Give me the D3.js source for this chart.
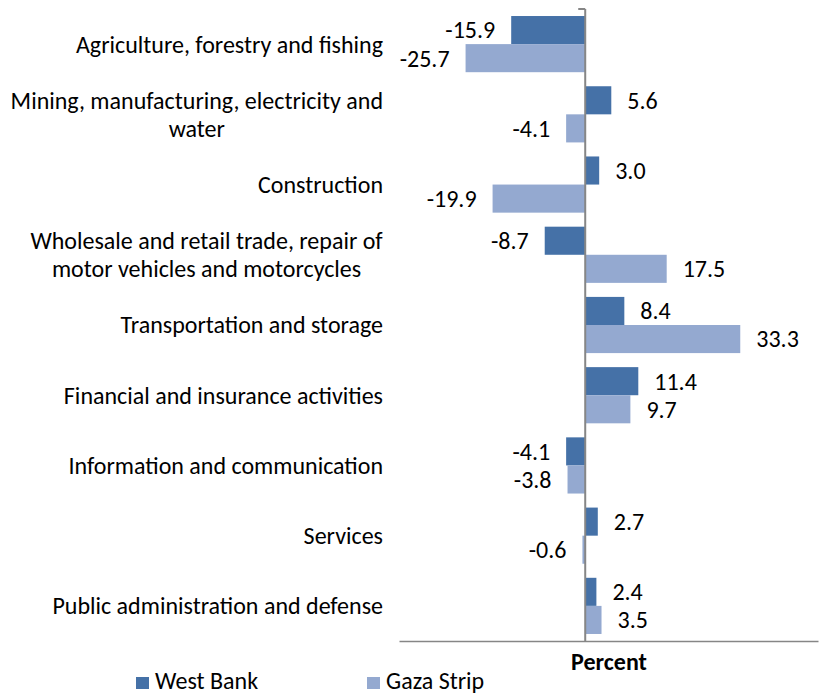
<!DOCTYPE html>
<html>
<head>
<meta charset="utf-8">
<script src="https://cdn.jsdelivr.net/npm/d3@7"></script>
<style>
  html, body { margin: 0; padding: 0; background: #fff; }
  svg { display: block; }
  text { font-family: Carlito, Lato, "Open Sans", sans-serif; fill: #000; }
</style>
</head>
<body>
<svg id="chart" width="822" height="695"></svg>
<script>
// Sectors (label lines) and annual percentage change by region
const categories = [
  ["Agriculture, forestry and fishing"],
  ["Mining, manufacturing, electricity and", "water"],
  ["Construction"],
  ["Wholesale and retail trade, repair of", "motor vehicles and motorcycles"],
  ["Transportation and storage"],
  ["Financial and insurance activities"],
  ["Information and communication"],
  ["Services"],
  ["Public administration and defense"]
];
const seriesNames = ["West Bank", "Gaza Strip"];
const westBank = [-15.9, 5.6, 3.0, -8.7, 8.4, 11.4, -4.1, 2.7, 2.4];
const gazaStrip = [-25.7, -4.1, -19.9, 17.5, 33.3, 9.7, -3.8, -0.6, 3.5];
const xDomain = [-40, 50];
const axisTitle = "Percent";

const colors = ["#4571a7", "#94a9d0"];
const fontSize = 24;

const svg = d3.select("#chart");
const plot = { left: 399, right: 818, top: 9, bottom: 641 };

const x = d3.scaleLinear().domain(xDomain).range([plot.left, plot.right]);
const idx = d3.range(categories.length);
const y = d3.scaleBand().domain(idx).range([plot.top, plot.bottom])
  .paddingInner(0.2).paddingOuter(0.1);
const ySub = d3.scaleBand().domain([0, 1]).range([0, y.bandwidth()]);

const data = idx.map(i => ({ i, values: [westBank[i], gazaStrip[i]] }));

// bars
const groups = svg.append("g").selectAll("g").data(data).join("g")
  .attr("transform", d => `translate(0,${y(d.i)})`);

groups.selectAll("rect").data(d => d.values.map((v, s) => ({ v, s })))
  .join("rect")
  .attr("x", d => x(Math.min(0, d.v)))
  .attr("width", d => Math.abs(x(d.v) - x(0)))
  .attr("y", d => ySub(d.s))
  .attr("height", ySub.bandwidth())
  .attr("fill", d => colors[d.s]);

// value labels
groups.selectAll("text.val").data(d => d.values.map((v, s) => ({ v, s })))
  .join("text")
  .attr("class", "val")
  .attr("x", d => d.v < 0 ? x(d.v) - 16 : x(d.v) + 16)
  .attr("y", d => ySub(d.s) + ySub.bandwidth() / 2)
  .attr("dy", "0.35em")
  .attr("text-anchor", d => d.v < 0 ? "end" : "start")
  .style("font-size", fontSize + "px")
  .text(d => d.v.toFixed(1));

// axes
const axisColor = "#868686";
svg.append("g")
  .attr("transform", `translate(0,${plot.bottom})`)
  .call(d3.axisBottom(x).tickValues([]).tickSizeOuter(0))
  .call(g => g.select(".domain").attr("stroke", axisColor).attr("stroke-width", 1.5));

const yAxis = svg.append("g").attr("transform", `translate(${x(0)},0)`);
yAxis.append("line")
  .attr("x1", 0).attr("x2", 0)
  .attr("y1", plot.top).attr("y2", plot.bottom)
  .attr("stroke", axisColor).attr("stroke-width", 2);
yAxis.append("line")
  .attr("x1", -7).attr("x2", 0)
  .attr("y1", plot.top).attr("y2", plot.top)
  .attr("stroke", axisColor).attr("stroke-width", 2);

// category labels: right-aligned block, lines centred within it
const labelRight = 383;
const lineH = 28;
const catG = svg.append("g");
categories.forEach((lines, i) => {
  const g = catG.append("g");
  const cy = y(i) + y.bandwidth() / 2;
  const t = g.append("text").style("font-size", fontSize + "px").attr("text-anchor", "middle");
  lines.forEach((ln, k) => {
    t.append("tspan").attr("x", 0)
      .attr("y", cy + (k - (lines.length - 1) / 2) * lineH)
      .attr("dy", "0.35em").text(ln);
  });
  const w = t.node().getBBox().width;
  t.attr("transform", `translate(${labelRight - w / 2},0)`);
});

// axis title
svg.append("text")
  .attr("x", 609).attr("y", 670)
  .attr("text-anchor", "middle")
  .style("font-size", fontSize + "px").style("font-weight", "bold")
  .text(axisTitle);

// legend
const legendX = [136, 367];
const lg = svg.append("g").selectAll("g").data(seriesNames).join("g")
  .attr("transform", (d, i) => `translate(${legendX[i]},677)`);
lg.append("rect").attr("width", 13).attr("height", 12).attr("fill", (d, i) => colors[i]);
lg.append("text").attr("x", 19).attr("y", 12)
  .style("font-size", fontSize + "px").text(d => d);
</script>
</body>
</html>
